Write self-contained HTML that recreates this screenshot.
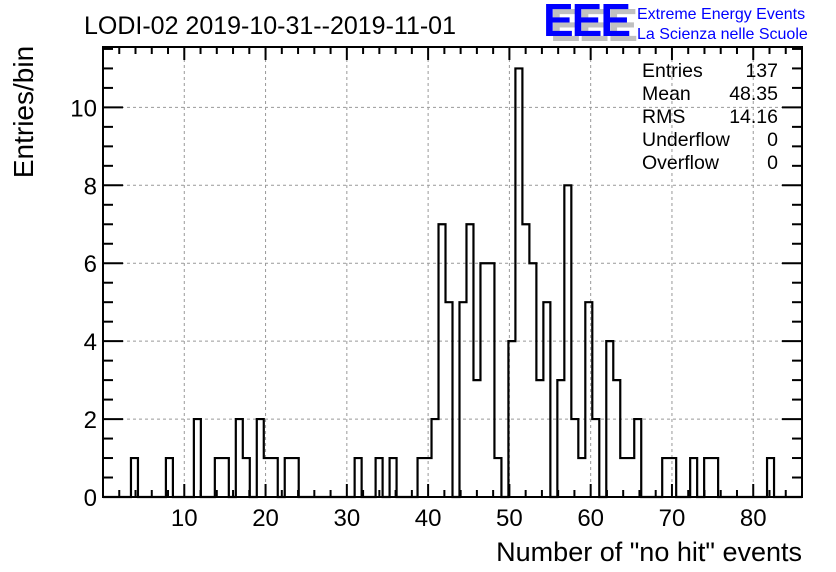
<!DOCTYPE html>
<html><head><meta charset="utf-8"><style>
body{margin:0;background:#fff;}
svg{display:block;font-family:"Liberation Sans",sans-serif;}
</style></head><body>
<svg id="chart" width="836" height="572" viewBox="0 0 836 572">
<rect width="836" height="572" fill="#fff"/>
<g id="grid"></g>
<g id="ticks"></g>
<path id="hist" fill="none" stroke="#000" stroke-width="2.2"/>
<rect x="103" y="47" width="699" height="450" fill="none" stroke="#000" stroke-width="2"/>
<g id="xlabels" font-size="24" text-anchor="middle"></g>
<g id="ylabels" font-size="24" text-anchor="end"></g>
<text x="802" y="561" font-size="27" text-anchor="end">Number of "no hit" events</text>
<text transform="translate(33,112) rotate(-90)" font-size="28" text-anchor="middle">Entries/bin</text>
<text x="84" y="34" font-size="25">LODI-02 2019-10-31--2019-11-01</text>
<g>
<text x="550" y="41" font-size="46" font-weight="bold" fill="#c0c0c0" letter-spacing="-2">EEE</text>
<text x="543" y="36" font-size="46" font-weight="bold" fill="#0000ff" letter-spacing="-2">EEE</text>
<text x="637" y="19" font-size="16" fill="#0000ff">Extreme Energy Events</text>
<text x="637" y="39" font-size="16" fill="#0000ff">La Scienza nelle Scuole</text>
</g>
<g font-size="19.5">
<text x="642" y="77">Entries</text><text x="778" y="77" text-anchor="end">137</text>
<text x="642" y="100">Mean</text><text x="778" y="100" text-anchor="end">48.35</text>
<text x="642" y="123">RMS</text><text x="778" y="123" text-anchor="end">14.16</text>
<text x="642" y="146">Underflow</text><text x="778" y="146" text-anchor="end">0</text>
<text x="642" y="169">Overflow</text><text x="778" y="169" text-anchor="end">0</text>
</g>
</svg>
<script>
const binIndices=[4,9,13,16,17,19,20,22,23,24,26,27,36,39,41,45,46,47,48,49,50,51,52,53,54,55,56,57,58,59,60,61,62,63,64,65,66,67,68,69,70,71,72,73,74,75,76,80,81,84,86,87,95];
const binCounts=[1,1,2,1,1,2,1,2,1,1,1,1,1,1,1,1,1,2,7,5,0,5,7,3,6,6,1,0,4,11,7,6,3,5,0,3,8,2,1,5,2,0,4,3,1,1,2,1,1,1,1,1,1];
const xTickLabels=[10,20,30,40,50,60,70,80];
const yTickLabels=[0,2,4,6,8,10];
const NBINS=100, XMIN=0, XMAX=86, YMAX=11.55;
const L=103,R=802,T=47,B=497;
const sx=v=>L+(v-XMIN)/(XMAX-XMIN)*(R-L);
const sy=v=>B-v/YMAX*(B-T);
const bw=(XMAX-XMIN)/NBINS;
const ns="http://www.w3.org/2000/svg";
const counts=new Array(NBINS).fill(0);
binIndices.forEach((b,i)=>counts[b]=binCounts[i]);
let d="M"+sx(XMIN)+","+sy(0);
for(let i=0;i<NBINS;i++){d+=" L"+sx(XMIN+i*bw)+","+sy(counts[i])+" L"+sx(XMIN+(i+1)*bw)+","+sy(counts[i]);}
d+=" L"+sx(XMAX)+","+sy(0);
document.getElementById('hist').setAttribute('d',d);
const grid=document.getElementById('grid'),ticks=document.getElementById('ticks');
function line(g,x1,y1,x2,y2,st,w,dash){const l=document.createElementNS(ns,'line');l.setAttribute('x1',x1);l.setAttribute('y1',y1);l.setAttribute('x2',x2);l.setAttribute('y2',y2);l.setAttribute('stroke',st);l.setAttribute('stroke-width',w);if(dash)l.setAttribute('stroke-dasharray',dash);g.appendChild(l);return l;}
xTickLabels.forEach(v=>{
 const x=sx(v);
 const gl=line(grid,x,T,x,B,'#999',1,'3,3');
 
 
 const t=document.createElementNS(ns,'text');t.setAttribute('x',x);t.setAttribute('y',526);t.textContent=v;
 
 
 document.getElementById('xlabels').appendChild(t);
});
for(let v=2;v<XMAX;v+=2){const x=sx(v);const m=(v%10===0)?13:7;line(ticks,x,B,x,B-m,'#000',2);line(ticks,x,T,x,T+m,'#000',2);}
yTickLabels.forEach(v=>{
 const y=sy(v);
 if(v>0){const gl=line(grid,L,y,R,y,'#999',1,'3,3');
 
 }
 const t=document.createElementNS(ns,'text');t.setAttribute('x',97);t.setAttribute('y',y+9);t.textContent=v;
 
 
 document.getElementById('ylabels').appendChild(t);
});
for(let v=0.5;v<YMAX;v+=0.5){const y=sy(v);const m=(v%2===0)?20:10;line(ticks,L,y,L+m,y,'#000',2);line(ticks,R,y,R-m,y,'#000',2);}
</script>
</body></html>
